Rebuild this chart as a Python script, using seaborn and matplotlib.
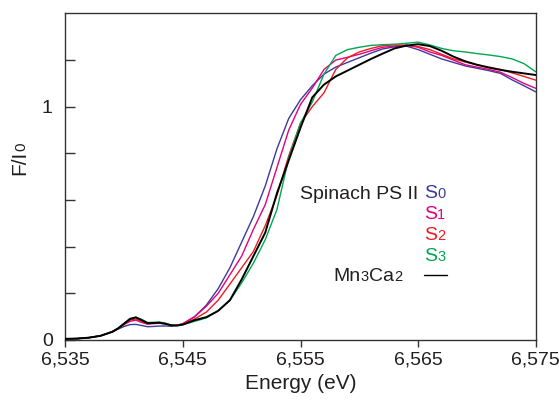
import numpy as np
import pandas as pd
import matplotlib
matplotlib.use("Agg")
import matplotlib.pyplot as plt
import seaborn as sns

# ---------------- data ----------------
energy = [6535, 6536, 6537, 6538, 6539, 6539.5, 6540, 6540.5, 6541, 6541.5,
          6542, 6542.5, 6543, 6543.5, 6544, 6544.5, 6545, 6546, 6547, 6548,
          6549, 6550, 6551, 6552, 6553, 6554, 6555, 6556, 6557, 6558,
          6559, 6560, 6561, 6562, 6563, 6564, 6565, 6566, 6567, 6568,
          6569, 6570, 6571, 6572, 6573, 6574, 6575]

s0 = [0.005, 0.006, 0.010, 0.018, 0.035, 0.047, 0.058, 0.066, 0.067, 0.062,
      0.057, 0.058, 0.060, 0.060, 0.059, 0.062, 0.070, 0.100, 0.150, 0.220,
      0.310, 0.420, 0.530, 0.660, 0.820, 0.950, 1.030, 1.090, 1.140, 1.170,
      1.190, 1.210, 1.230, 1.248, 1.257, 1.260, 1.245, 1.225, 1.205, 1.190,
      1.175, 1.165, 1.155, 1.143, 1.115, 1.090, 1.064]

s1 = [0.005, 0.006, 0.010, 0.018, 0.036, 0.050, 0.066, 0.080, 0.085, 0.075,
      0.068, 0.070, 0.072, 0.068, 0.063, 0.064, 0.070, 0.100, 0.145, 0.200,
      0.280, 0.360, 0.475, 0.580, 0.740, 0.900, 1.010, 1.080, 1.160, 1.200,
      1.212, 1.225, 1.240, 1.255, 1.260, 1.264, 1.255, 1.235, 1.220, 1.200,
      1.180, 1.170, 1.160, 1.148, 1.125, 1.100, 1.079]

s2 = [0.005, 0.006, 0.010, 0.018, 0.036, 0.050, 0.068, 0.085, 0.090, 0.080,
      0.070, 0.073, 0.075, 0.070, 0.063, 0.063, 0.068, 0.090, 0.120, 0.171,
      0.240, 0.310, 0.380, 0.490, 0.620, 0.790, 0.930, 1.000, 1.060, 1.160,
      1.210, 1.235, 1.250, 1.262, 1.265, 1.263, 1.258, 1.245, 1.225, 1.205,
      1.192, 1.180, 1.170, 1.160, 1.145, 1.130, 1.114]

s3 = [0.005, 0.006, 0.010, 0.018, 0.036, 0.052, 0.072, 0.092, 0.098, 0.088,
      0.075, 0.076, 0.077, 0.072, 0.064, 0.062, 0.066, 0.080, 0.095, 0.125,
      0.170, 0.245, 0.330, 0.430, 0.560, 0.780, 0.930, 1.020, 1.140, 1.220,
      1.245, 1.255, 1.263, 1.266, 1.268, 1.272, 1.277, 1.265, 1.250, 1.240,
      1.235, 1.228, 1.222, 1.215, 1.205, 1.185, 1.150]

mn3ca2 = [0.005, 0.006, 0.010, 0.018, 0.035, 0.050, 0.070, 0.090, 0.097, 0.085,
          0.072, 0.073, 0.074, 0.070, 0.063, 0.062, 0.066, 0.085, 0.098, 0.125,
          0.171, 0.260, 0.360, 0.460, 0.630, 0.770, 0.910, 1.040, 1.095, 1.130,
          1.155, 1.180, 1.205, 1.228, 1.250, 1.262, 1.268, 1.260, 1.240, 1.215,
          1.195, 1.180, 1.168, 1.158, 1.150, 1.143, 1.136]

series_names = ["S0", "S1", "S2", "S3", "Mn3Ca2"]
series_values = [s0, s1, s2, s3, mn3ca2]
colors = {"S0": "#3b3b9a", "S1": "#e6007e", "S2": "#ec1c24",
          "S3": "#00a651", "Mn3Ca2": "#000000"}
widths = {"S0": 1.0, "S1": 1.0, "S2": 1.0, "S3": 1.0, "Mn3Ca2": 1.4}

x_ticks = [6535, 6545, 6555, 6565, 6575]
x_tick_labels = ["6,535", "6,545", "6,555", "6,565", "6,575"]
y_ticks = [0, 0.2, 0.4, 0.6, 0.8, 1.0, 1.2]
y_tick_labels = ["0", "", "", "", "", "1", ""]

df = pd.concat([pd.DataFrame({"Energy": energy, "F": v, "series": n})
                for n, v in zip(series_names, series_values)],
               ignore_index=True)

# ---------------- plot ----------------
sns.set_style("ticks")
plt.rcParams["font.family"] = ["Liberation Sans", "DejaVu Sans"]
plt.rcParams["text.color"] = "#231f20"

W, H = 559, 400
fig = plt.figure(figsize=(W / 100, H / 100), dpi=100)
ax = fig.add_axes([65.3 / W, 1 - 340 / H, (535.7 - 65.3) / W, (340 - 12.5) / H])

for n in series_names:
    sub = df[df["series"] == n]
    sns.lineplot(data=sub, x="Energy", y="F", color=colors[n],
                 linewidth=widths[n], ax=ax, sort=False, estimator=None,
                 legend=False, zorder=3 if n == "Mn3Ca2" else 2)

ax.set_xlim(6535, 6575)
ax.set_ylim(0, 1.404)
ax.set_xticks(x_ticks)
ax.set_xticklabels(x_tick_labels)
ax.set_yticks(y_ticks)
ax.set_yticklabels(y_tick_labels)
ax.tick_params(axis="x", direction="out", length=5, width=1, pad=3,
               labelsize=14, colors="#333333", labelcolor="#231f20")
ax.tick_params(axis="y", direction="in", length=7, width=1, pad=9,
               labelsize=14, colors="#333333", labelcolor="#231f20")
for sp in ax.spines.values():
    sp.set_visible(True)
    sp.set_color("#333333")
    sp.set_linewidth(1.0)
ax.set_xlabel("Energy (eV)", fontsize=15, color="#231f20", labelpad=4)
ax.set_ylabel("")

renderer = fig.canvas.get_renderer()


def place_row(pieces, x_px, y_base_px, align="left"):
    """pieces: list of (text, size, color). y measured from top."""
    texts = []
    for s, size, col in pieces:
        t = fig.text(0, 0, s, fontsize=size, color=col, ha="left", va="baseline")
        texts.append(t)
    wds = [t.get_window_extent(renderer).width for t in texts]
    total = sum(wds)
    x = x_px - total if align == "right" else x_px
    for t, w in zip(texts, wds):
        t.set_position((x / W, 1 - y_base_px / H))
        x += w


def place_col(pieces, x_base_px, y_start_px):
    """rotated 90 text; baseline at x_base_px, starts at y_start_px (from top) going up."""
    y = y_start_px
    for s, size, col in pieces:
        t = fig.text(x_base_px / W, 1 - y / H, s, fontsize=size, color=col,
                     rotation=90, rotation_mode="anchor", ha="left", va="baseline")
        h = t.get_window_extent(renderer).height
        y -= h


dark = "#231f20"
place_row([("Spinach PS II", 14, dark)], 418.5, 198.5, align="right")
place_row([("S", 14, colors["S0"]), ("0", 10.5, colors["S0"])], 424, 198)
place_row([("S", 14, colors["S1"]), ("1", 10.5, colors["S1"])], 424, 219)
place_row([("S", 14, colors["S2"]), ("2", 10.5, colors["S2"])], 424, 240)
place_row([("S", 14, colors["S3"]), ("3", 10.5, colors["S3"])], 424, 261)
place_row([("Mn", 14, dark), ("3", 10.5, dark), ("Ca", 14, dark), ("2", 10.5, dark)],
          402, 281, align="right")
ax.plot([0.763, 0.812], [0.198, 0.198], transform=ax.transAxes,
        color="black", linewidth=1.0, clip_on=False)

place_col([("F/I", 15, dark), ("0", 11, dark)], 25, 175)

fig.savefig("out.png", dpi=100)
